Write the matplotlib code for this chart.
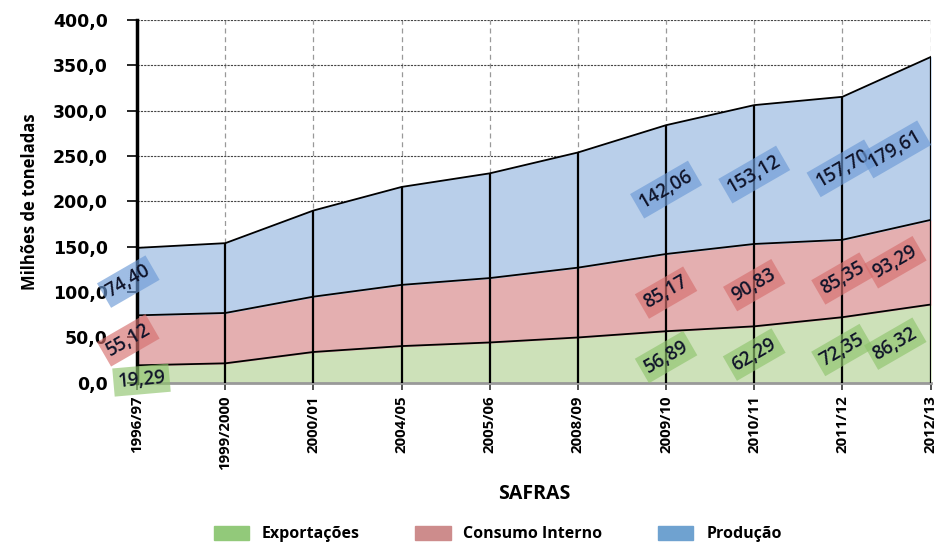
import numpy as np
import matplotlib.pyplot as plt
from matplotlib.patches import Patch

# Safras e valores (milhões de toneladas)
safras = ['1996/97', '1999/2000', '2000/01', '2004/05', '2005/06',
          '2008/09', '2009/10', '2010/11', '2011/12', '2012/13']
exportacoes = [19.29, 21.5, 34.0, 40.5, 44.5, 50.0, 56.89, 62.29, 72.35, 86.32]
consumo = [55.12, 55.5, 61.0, 67.5, 71.0, 77.0, 85.17, 90.83, 85.35, 93.29]
producao = [74.40, 77.0, 95.0, 108.0, 115.5, 127.0, 142.06, 153.12, 157.70, 179.61]
# safras com rótulo de valor
rotulados = [0, 6, 7, 8, 9]

plt.rcParams['font.family'] = ['Open Sans', 'DejaVu Sans']

x = np.arange(len(safras))
exp = np.array(exportacoes)
con = np.array(consumo)
pro = np.array(producao)
top1 = exp
top2 = exp + con
top3 = exp + con + pro

fig = plt.figure(figsize=(9.39, 5.43), dpi=100)
ax = fig.add_axes([0.146, 0.295, 0.845, 0.668])

ax.fill_between(x, 0, top1, color='#cde1b9', zorder=2)
ax.fill_between(x, top1, top2, color='#e4afb0', zorder=2)
ax.fill_between(x, top2, top3, color='#b9cfea', zorder=2)
for t in (top1, top2, top3):
    ax.plot(x, t, color='black', lw=1.3, zorder=3)
ax.vlines(x, 0, top3, color='black', lw=1.6, zorder=3)

ax.set_xlim(0, 9)
ax.set_ylim(0, 400)
ax.set_yticks(np.arange(0, 401, 50))
ax.set_yticklabels([f'{v:.1f}'.replace('.', ',') for v in np.arange(0, 401, 50)],
                   fontsize=12.5, fontweight='bold', family='DejaVu Sans')
ax.set_xticks(x)
ax.set_xticklabels(safras, rotation=90, fontsize=10.8, fontweight='bold')

ax.yaxis.grid(True, linestyle=(0, (2, 1)), color='#444444', lw=0.8, zorder=1)
ax.xaxis.grid(True, linestyle=(0, (4, 3)), color='#999999', lw=0.9, zorder=1)
ax.set_axisbelow(True)

for s in ('top', 'right'):
    ax.spines[s].set_visible(False)
ax.spines['left'].set_linewidth(2.5)
ax.spines['left'].set_zorder(4)
ax.spines['bottom'].set_color('#999999')
ax.spines['bottom'].set_linewidth(2)
ax.tick_params(axis='y', length=7, width=1.2, pad=14)
ax.tick_params(axis='x', length=5, width=1.2, color='#333333', pad=4)

ax.set_ylabel('Milhões de toneladas', fontsize=12, fontweight='bold', labelpad=10)
ax.set_xlabel('SAFRAS', fontsize=14, fontweight='bold', labelpad=10)

# rótulos de valores
cores_box = ['#8fc46d', '#d66f6e', '#6c9ad6']
series = [exp, con, pro]
bases = [np.zeros_like(exp), top1, top2]
for i in rotulados:
    dx = -0.4 if i == 9 else (-0.1 if i == 0 else 0)
    for k in range(3):
        yv = bases[k][i] + series[k][i] / 2
        rot = 30
        xv = x[i] + dx
        if i == 0 and k == 0:
            yv, rot, xv = 3, 5, 0.05
        if i == 9 and k == 2:
            yv -= 12
        ax.text(xv, yv, f'{series[k][i]:.2f}'.replace('.', ','),
                rotation=rot, ha='center', va='center', fontsize=13.5,
                fontweight='semibold', color='#10142a', zorder=5, clip_on=False,
                bbox=dict(boxstyle='square,pad=0.22', fc=cores_box[k],
                          ec='none', alpha=0.65))

handles = [Patch(color='#92c97a', label='Exportações'),
           Patch(color='#cd8c8c', label='Consumo Interno'),
           Patch(color='#6fa2d0', label='Produção')]
fig.legend(handles=handles, loc='lower center', ncol=3, frameon=False,
           bbox_to_anchor=(0.53, -0.025), prop={'weight': 'bold', 'size': 11.5},
           handlelength=2.2, handleheight=1.0, columnspacing=3.5)

fig.savefig('out.png', dpi=100)
